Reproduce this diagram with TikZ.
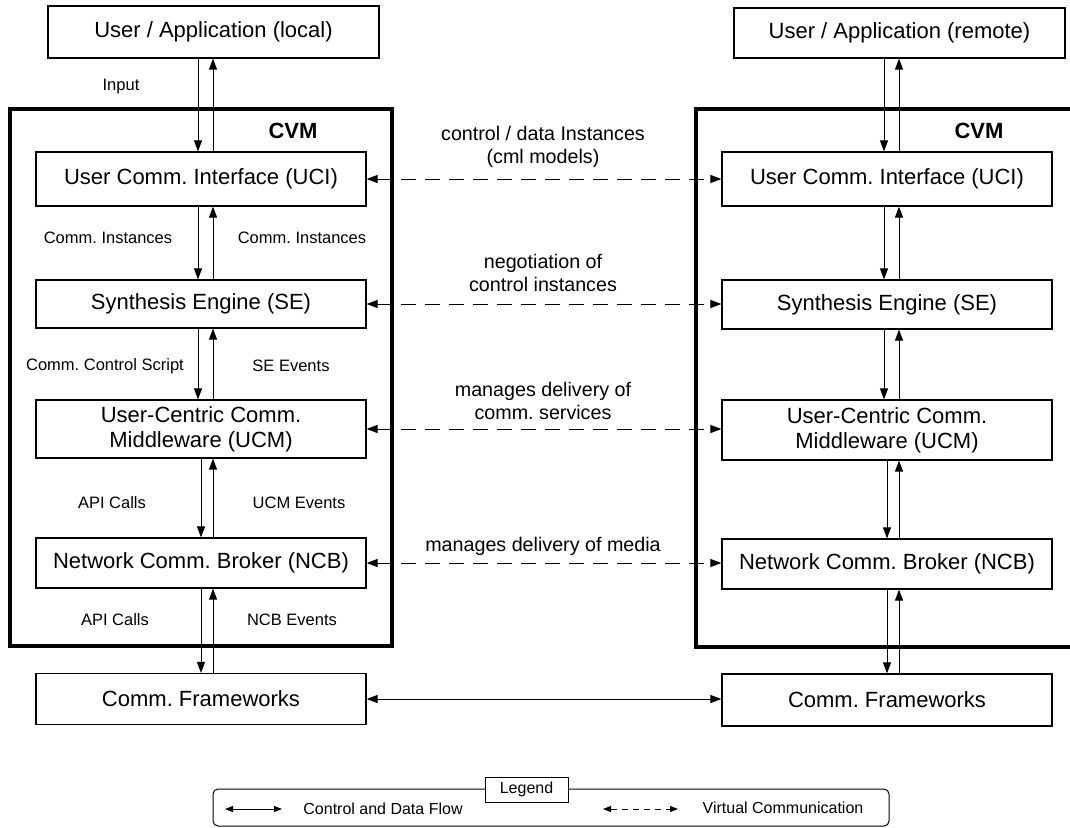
\documentclass[tikz,border=0pt]{standalone}
\usepackage{fontspec}
\setmainfont{Liberation Sans}
\usetikzlibrary{arrows.meta,calc}
\frenchspacing
\begin{document}
\begin{tikzpicture}[x=1pt,y=-1pt,
  box/.style={draw,line width=1.2pt,minimum width=330pt,inner sep=0pt,font=\fontsize{22}{25}\selectfont,align=center},
  lbl/.style={font=\fontsize{16.5}{20}\selectfont,inner sep=0pt},
  vlbl/.style={font=\fontsize{19.7}{23}\selectfont,align=center,inner sep=0pt},
  cvmlbl/.style={font=\bfseries\fontsize{22}{26}\selectfont,inner sep=0pt},
  flow/.style={line width=1pt,-{Triangle[length=11pt,width=8pt]}},
  biflow/.style={line width=1pt,{Triangle[length=11pt,width=8pt]}-{Triangle[length=11pt,width=8pt]}},
  virt/.style={line width=1pt,dash pattern=on 15pt off 9pt,{Triangle[length=11pt,width=8pt]}-{Triangle[length=11pt,width=8pt]}},
  cvm/.style={line width=3.5pt},
  legtext/.style={font=\fontsize{16}{19}\selectfont,inner sep=0pt}
]
\useasboundingbox (0,0) rectangle (1070,827);

% CVM containers
\draw[cvm] (10,109) rectangle (392,646);
\draw[cvm] (1090,109) -- (696,109) -- (696,647) -- (1090,647);
\node[cvmlbl] (cvmL) at (293,131) {CVM};
\node[cvmlbl] (cvmR) at (979,131) {CVM};

% left column
\node[box,minimum width=331pt,minimum height=52pt] (LUA) at (213.5,32) {User / Application (local)};
\node[box,minimum height=54pt] (UCIL) at (201,179) {User Comm. Interface (UCI)};
\node[box,minimum height=48pt] (SEL) at (201,304) {Synthesis Engine (SE)};
\node[box,minimum height=58pt] (UCML) at (201,429) {User-Centric Comm.\\Middleware (UCM)};
\node[box,minimum height=50pt] (NCBL) at (201,563) {Network Comm. Broker (NCB)};
\node[box,minimum height=51pt] (CFL) at (201,699) {Comm. Frameworks};

% right column
\node[box,minimum width=331pt,minimum height=50pt] (RUA) at (899.5,33) {User / Application (remote)};
\node[box,minimum height=54pt] (UCIR) at (887,179) {User Comm. Interface (UCI)};
\node[box,minimum height=49pt] (SER) at (887,304.5) {Synthesis Engine (SE)};
\node[box,minimum height=60pt] (UCMR) at (887,430) {User-Centric Comm.\\Middleware (UCM)};
\node[box,minimum height=50pt] (NCBR) at (887,564) {Network Comm. Broker (NCB)};
\node[box,minimum height=52pt] (CFR) at (887,700) {Comm. Frameworks};

% x positions of vertical arrows
\coordinate (xa) at (198,0);
\coordinate (xb) at (201,0);
\coordinate (xu) at (213,0);
\coordinate (xc) at (884,0);
\coordinate (xd) at (887,0);
\coordinate (xv) at (899,0);

% left vertical arrows
\draw[flow] (LUA.south -| xa) -- (UCIL.north -| xa);
\draw[flow] (UCIL.north -| xu) -- (LUA.south -| xu);
\draw[flow] (UCIL.south -| xa) -- (SEL.north -| xa);
\draw[flow] (SEL.north -| xu) -- (UCIL.south -| xu);
\draw[flow] (SEL.south -| xa) -- (UCML.north -| xa);
\draw[flow] (UCML.north -| xu) -- (SEL.south -| xu);
\draw[flow] (UCML.south -| xb) -- (NCBL.north -| xb);
\draw[flow] (NCBL.north -| xu) -- (UCML.south -| xu);
\draw[flow] (NCBL.south -| xb) -- (CFL.north -| xb);
\draw[flow] (CFL.north -| xu) -- (NCBL.south -| xu);

% right vertical arrows
\draw[flow] (RUA.south -| xc) -- (UCIR.north -| xc);
\draw[flow] (UCIR.north -| xv) -- (RUA.south -| xv);
\draw[flow] (UCIR.south -| xc) -- (SER.north -| xc);
\draw[flow] (SER.north -| xv) -- (UCIR.south -| xv);
\draw[flow] (SER.south -| xc) -- (UCMR.north -| xc);
\draw[flow] (UCMR.north -| xv) -- (SER.south -| xv);
\draw[flow] (UCMR.south -| xd) -- (NCBR.north -| xd);
\draw[flow] (NCBR.north -| xv) -- (UCMR.south -| xv);
\draw[flow] (NCBR.south -| xd) -- (CFR.north -| xd);
\draw[flow] (CFR.north -| xv) -- (NCBR.south -| xv);

% left labels
\node[lbl] (tInput) at (121,87) {Input};
\node[lbl] (tCI1) at (108,238) {Comm. Instances};
\node[lbl] (tCI2) at (302,238) {Comm. Instances};
\node[lbl] (tCCS) at (105,366) {Comm. Control Script};
\node[lbl] (tSEE) at (291,366) {SE Events};
\node[lbl] (tAPI1) at (112,503) {API Calls};
\node[lbl] (tUCME) at (299,503) {UCM Events};
\node[lbl] (tAPI2) at (115,620) {API Calls};
\node[lbl] (tNCBE) at (292,620) {NCB Events};

% virtual communication
\draw[virt] (UCIL.east) -- (UCIL.east -| UCIR.west);
\draw[virt] (SEL.east) -- (SEL.east -| SER.west);
\draw[virt] (UCML.east) -- (UCML.east -| UCMR.west);
\draw[virt] (NCBL.east) -- (NCBL.east -| NCBR.west);
\node[vlbl] (v1) at (543,146.5) {control / data Instances\\(cml models)};
\node[vlbl] (v2) at (543,272.5) {negotiation of\\control instances};
\node[vlbl] (v3) at (543,401) {manages delivery of\\comm. services};
\node[vlbl] (v4) at (543,546) {manages delivery of media};

% frameworks link
\draw[biflow] (CFL.east) -- (CFL.east -| CFR.west);

% legend
\draw[line width=1pt,rounded corners=5pt] (213,789) rectangle (889,826);
\node[draw,line width=1pt,fill=white,minimum width=83pt,minimum height=25pt,inner sep=0pt,font=\fontsize{16}{19}\selectfont] (leg) at (526.5,789.5) {Legend};
\coordinate (ls1) at (225,809);
\coordinate (ls2) at (282,809);
\coordinate (ld1) at (603,809);
\coordinate (ld2) at (678,809);
\draw[line width=1pt,{Triangle[length=8pt,width=6pt]}-{Triangle[length=8pt,width=6pt]}] (ls1) -- (ls2);
\draw[line width=1pt,dash pattern=on 6pt off 5pt,{Triangle[length=8pt,width=6pt]}-{Triangle[length=8pt,width=6pt]}] (ld1) -- (ld2);
\node[legtext] (lt1) at (383,809) {Control and Data Flow};
\node[legtext] (lt2) at (783,808) {Virtual Communication};
\end{tikzpicture}
\end{document}
